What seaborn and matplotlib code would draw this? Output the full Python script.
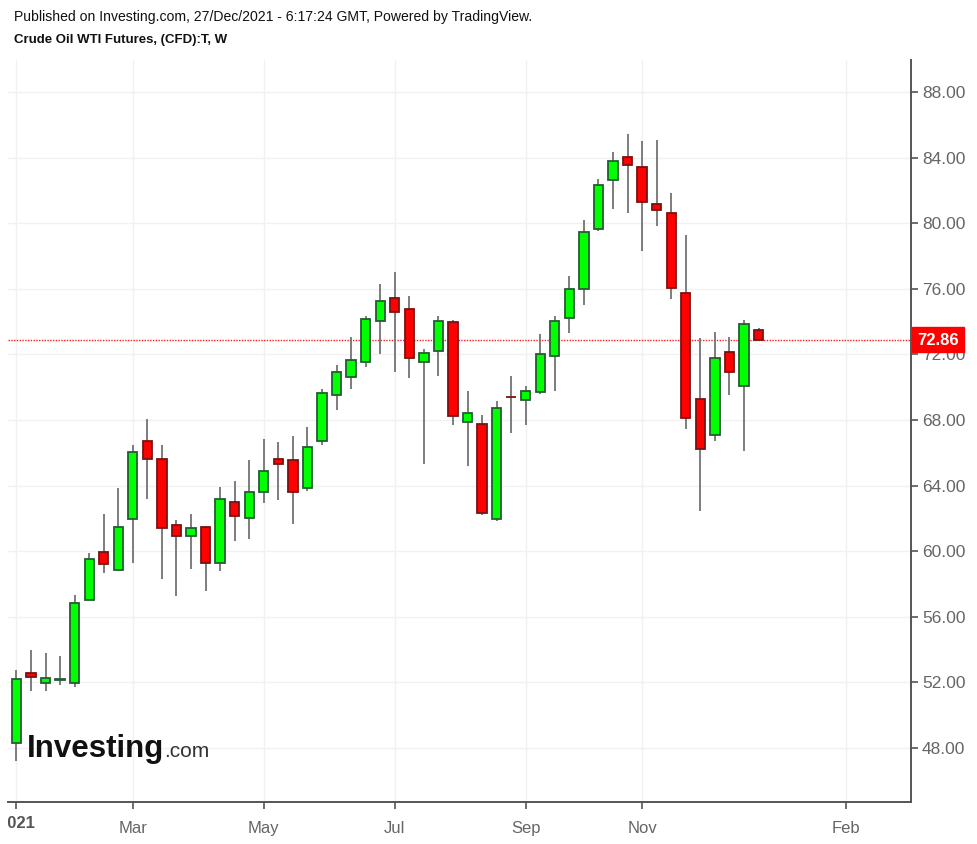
import numpy as np
import pandas as pd
import matplotlib
matplotlib.use("Agg")
import matplotlib.pyplot as plt
import seaborn as sns
from matplotlib.transforms import Bbox

# ---------------- data ----------------
first_week = "2021-01-04"
opens = [48.32, 52.55, 51.96, 52.13, 51.98, 57.02, 59.95, 58.85, 61.96, 66.72,
         65.60, 61.58, 60.93, 61.50, 59.30, 62.98, 62.05, 63.59, 65.62, 65.54,
         63.87, 66.70, 69.55, 70.65, 71.56, 74.03, 75.42, 74.76, 71.56, 72.19,
         73.96, 67.90, 67.73, 61.96, 69.42, 69.20, 69.68, 71.91, 74.20, 75.96,
         79.63, 82.65, 84.06, 83.40, 81.20, 80.65, 75.73, 69.28, 67.07, 72.13,
         70.10, 73.51]
highs = [52.76, 53.98, 53.77, 53.60, 57.33, 59.87, 62.27, 63.83, 66.48, 68.04,
         66.48, 61.90, 62.25, 61.55, 63.91, 64.28, 65.56, 66.84, 66.66, 67.02,
         67.55, 69.87, 71.33, 73.05, 74.34, 76.32, 77.05, 75.56, 72.31, 74.34,
         74.08, 69.79, 68.30, 69.14, 70.68, 70.07, 73.24, 74.34, 76.81, 80.20,
         82.68, 84.34, 85.43, 85.00, 85.08, 81.87, 79.30, 72.98, 73.37, 73.05,
         74.10, 73.60]
lows = [47.20, 51.50, 51.50, 51.84, 51.70, 57.00, 58.65, 58.80, 59.26, 63.20,
        58.28, 57.27, 58.92, 57.60, 58.80, 60.64, 60.72, 62.92, 63.10, 61.64,
        63.67, 66.50, 68.59, 69.87, 71.24, 72.00, 70.93, 70.54, 65.32, 70.69,
        67.70, 65.21, 62.20, 61.84, 67.23, 67.67, 69.60, 69.76, 73.30, 75.00,
        79.50, 80.89, 80.60, 78.33, 79.85, 75.38, 67.48, 62.47, 66.74, 69.55,
        66.13, 72.86]
closes = [52.19, 52.36, 52.30, 52.20, 56.86, 59.50, 59.22, 61.50, 66.07, 65.60,
          61.40, 60.93, 61.41, 59.30, 63.16, 62.13, 63.63, 64.89, 65.34, 63.59,
          66.35, 69.67, 70.93, 71.68, 74.14, 75.23, 74.59, 71.81, 72.10, 74.04,
          68.26, 68.45, 62.30, 68.73, 69.38, 69.75, 72.02, 74.04, 75.97, 79.46,
          82.31, 83.77, 83.56, 81.28, 80.81, 76.05, 68.10, 66.23, 71.76, 70.91,
          73.88, 72.86]
last_price = 72.86
y_ticks = [48, 52, 56, 60, 64, 68, 72, 76, 80, 84, 88]
x_tick_labels = ["2021", "Mar", "May", "Jul", "Sep", "Nov", "Feb"]
x_tick_dates = ["2021-01-04", "2021-03-01", "2021-05-03", "2021-07-05",
                "2021-09-06", "2021-11-01", "2022-02-07"]

header = "Published on Investing.com, 27/Dec/2021 - 6:17:24 GMT, Powered by TradingView."
title = "Crude Oil WTI Futures, (CFD):T, W"

# ---------------- frame ----------------
weeks = pd.date_range(first_week, periods=len(opens), freq="7D")
df = pd.DataFrame({"week": weeks, "open": opens, "high": highs,
                   "low": lows, "close": closes})
df["pos"] = (df["week"] - pd.Timestamp(first_week)).dt.days / 7
df["up"] = df["close"] >= df["open"]
tick_pos = [(pd.Timestamp(d) - pd.Timestamp(first_week)).days / 7 for d in x_tick_dates]

sns.set_theme(style="white")
plt.rcParams["font.family"] = ["Liberation Sans", "DejaVu Sans"]

W, H = 977, 844
fig = plt.figure(figsize=(W / 100, H / 100), dpi=100)
ax = fig.add_axes([8 / W, 1 - 802 / H, (911 - 8) / W, (802 - 60) / H])

ax.set_xlim(-0.58, 61.48)
ax.set_ylim(44.71, 89.95)

# grid
for t in y_ticks:
    ax.axhline(t, color="#f1f1f1", lw=1, zorder=0)
for t in tick_pos:
    ax.axvline(t, color="#f1f1f1", lw=1, zorder=0)

# wicks
ax.vlines(df["pos"], df["low"], df["high"], color="#737373", lw=1.3, zorder=2)

# bodies
up = df[df["up"]]
dn = df[~df["up"]]
ax.bar(up["pos"], up["close"] - up["open"], bottom=up["open"], width=0.64,
       color="#00ff00", edgecolor="#245c34", linewidth=1.3, zorder=3)
ax.bar(dn["pos"], dn["open"] - dn["close"], bottom=dn["close"], width=0.64,
       color="#ff0000", edgecolor="#7a1212", linewidth=1.3, zorder=3)

# last price line
ax.axhline(last_price, color="#ff2020", lw=1, ls=(0, (1, 1)), zorder=1)

# axes styling
for s in ["top", "left"]:
    ax.spines[s].set_visible(False)
for s in ["right", "bottom"]:
    ax.spines[s].set_visible(True)
    ax.spines[s].set_color("#555555")
    ax.spines[s].set_linewidth(1.4)

ax.yaxis.tick_right()
ax.set_yticks(y_ticks)
ax.set_yticklabels([f"{t:.2f}" for t in y_ticks])
ax.tick_params(axis="y", which="both", right=True, left=False, length=5,
               width=1.2, color="#555555", labelcolor="#666666",
               labelsize=12.5, pad=3)

ax.set_xticks(tick_pos)
ax.set_xticklabels([""] + x_tick_labels[1:])
ax.tick_params(axis="x", bottom=True, length=5, width=1.2, color="#555555",
               labelcolor="#666666", labelsize=12, pad=9)

# "2021" label clipped at the axes' left edge (as in the reference)
t2021 = ax.text(tick_pos[0], -0.019, x_tick_labels[0], transform=ax.get_xaxis_transform(),
                ha="center", va="top", fontsize=12, fontweight="bold", color="#555555")
t2021.set_clip_box(Bbox.from_extents(8, 0, W, H))
t2021.set_clip_on(True)

# last price box
fig.patches.append(plt.Rectangle((912 / W, 1 - 352 / H), 52 / W, 25 / H,
                                 transform=fig.transFigure, color="#ff0000",
                                 zorder=5))
fig.text(938 / W, 1 - 340 / H, f"{last_price:.2f}", ha="center", va="center",
         color="white", fontsize=12, fontweight="bold", zorder=6)

# header texts
fig.text(14 / W, 1 - 17 / H, header, ha="left", va="center", fontsize=10.1,
         color="#111111")
fig.text(14 / W, 1 - 40 / H, title, ha="left", va="center", fontsize=9.5,
         fontweight="bold", color="#111111")

# watermark
wm = fig.text(27 / W, 1 - 757 / H, "Investing", ha="left", va="baseline",
              fontsize=22.5, fontweight="bold", color="#111111")
fig.canvas.draw()
bb = wm.get_window_extent()
fig.text(bb.x1 / W, 1 - 757 / H, ".com", ha="left", va="baseline",
         fontsize=15, color="#333333")

fig.savefig("out.png", dpi=100)
